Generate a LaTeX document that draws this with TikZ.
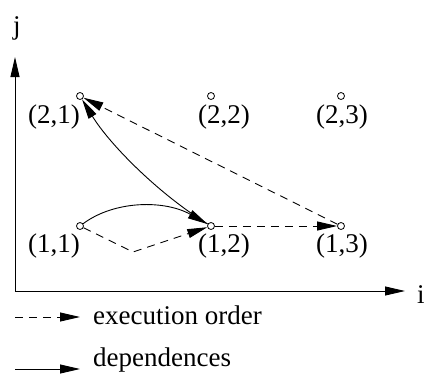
\documentclass[tikz,border=0pt]{standalone}
\usepackage{fontspec}
\setmainfont{Liberation Serif}
\usetikzlibrary{arrows.meta}
\begin{document}
\begin{tikzpicture}[x=1pt,y=-1pt,
  pt/.style={circle,draw,line width=0.8pt,minimum size=7pt,inner sep=0pt},
  lbl/.style={inner sep=0pt,font=\fontsize{27}{30}\selectfont},
  tip/.style={-{Triangle[length=20pt,width=9pt]}},
  axis/.style={line width=0.9pt,tip},
  dep/.style={line width=0.9pt,tip},
  exe/.style={line width=0.9pt,dash pattern=on 8pt off 6pt,tip}]
\useasboundingbox (0,0) rectangle (426,376);
% axes
\coordinate (o) at (15,291);
\coordinate (yt) at (15,57);
\coordinate (xt) at (405,291);
\draw[axis] (o) -- (yt);
\draw[axis] (o) -- (xt);
\node[lbl,anchor=base] (jl) at (17,34) {j};
\node[lbl,anchor=base west] (il) at (417,303) {i};
% points
\node[pt] (p21) at (80,96) {};
\node[pt] (p22) at (211,96) {};
\node[pt] (p23) at (341,96) {};
\node[pt] (p11) at (80,226) {};
\node[pt] (p12) at (211,226) {};
\node[pt] (p13) at (341,226) {};
% labels
\node[lbl,anchor=base east] (l21) at (80,123) {(2,1)};
\node[lbl,anchor=base west] (l22) at (198,123) {(2,2)};
\node[lbl,anchor=base west] (l23) at (316,123) {(2,3)};
\node[lbl,anchor=base east] (l11) at (80,252) {(1,1)};
\node[lbl,anchor=base west] (l12) at (198,252) {(1,2)};
\node[lbl,anchor=base west] (l13) at (316,252) {(1,3)};
% execution order
\coordinate (v) at (133,252);
\draw[exe] (p11) -- (v) -- (p12);
\draw[exe] (p12) -- (p13);
\draw[exe] (p13) -- (p21);
% dependences
\draw[dep] (p11) .. controls (115,200) and (165,200) .. (p12);
\draw[dep] (p12) .. controls (160,195) and (110,145) .. (p21);
% legend
\coordinate (e0) at (15,317);
\coordinate (e1) at (80,317);
\coordinate (d0) at (15,369);
\coordinate (d1) at (80,369);
\draw[exe] (e0) -- (e1);
\draw[dep] (d0) -- (d1);
\node[lbl,anchor=base west] (el) at (93,324) {execution order};
\node[lbl,anchor=base west] (dl) at (93,366) {dependences};
\end{tikzpicture}
\end{document}
